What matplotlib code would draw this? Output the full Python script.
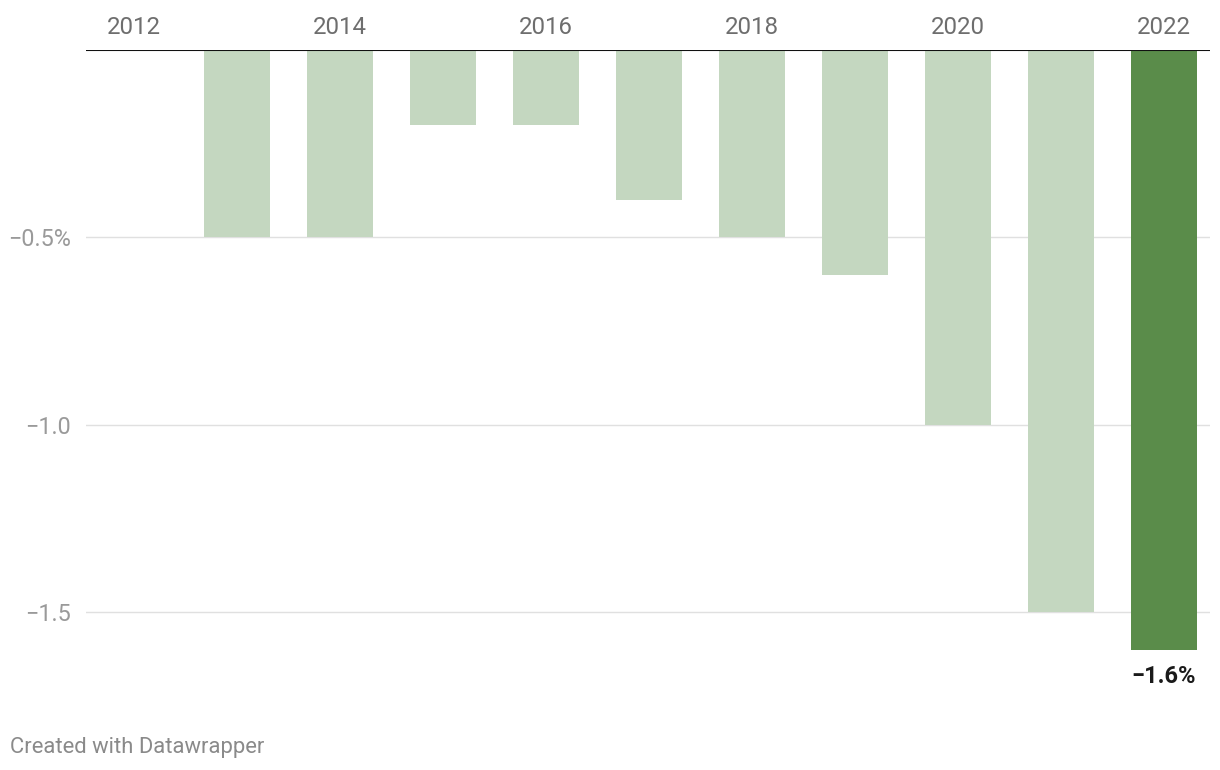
"""
Yearly change bar chart (Datawrapper style).
"""
import matplotlib
matplotlib.use('Agg')
import matplotlib.pyplot as plt

plt.rcParams['font.family'] = ['Roboto', 'DejaVu Sans']

years = [2012, 2013, 2014, 2015, 2016, 2017, 2018, 2019, 2020, 2021, 2022]
values = [0.0, -0.5, -0.5, -0.2, -0.2, -0.4, -0.5, -0.6, -1.0, -1.5, -1.6]
tick_years = [2012, 2014, 2016, 2018, 2020, 2022]
y_ticks = [-0.5, -1.0, -1.5]
y_labels = ['\u22120.5%', '\u22121.0', '\u22121.5']

light = '#c4d7c0'
dark = '#5a8c4a'

W, H = 1220, 770
fig = plt.figure(figsize=(W / 100, H / 100), dpi=100)
ax = fig.add_axes([86 / W, 1 - 706 / H, (1210 - 86) / W, (706 - 50) / H])

colors = [light] * (len(years) - 1) + [dark]
ax.bar(years, values, width=0.64, color=colors, zorder=2)

ax.set_ylim(-1.75, 0)
ax.set_xlim(2011.534, 2022.446)

# grid lines
for t in y_ticks:
    ax.axhline(t, color='#e0e0e0', lw=1.0, zorder=1)
ax.axhline(0, color='#111111', lw=1.5, zorder=3)

for s in ax.spines.values():
    s.set_visible(False)

ax.xaxis.tick_top()
ax.set_xticks(tick_years)
ax.set_xticklabels([str(y) for y in tick_years], fontsize=17.3, color='#6e6e6e')
ax.tick_params(axis='x', length=0, pad=8)

ax.set_yticks(y_ticks)
ax.set_yticklabels(y_labels, fontsize=16.8, color='#9a9a9a')
ax.tick_params(axis='y', length=0, pad=11)

# value label on last bar
ax.annotate('\u22121.6%', xy=(years[-1], values[-1]), xytext=(0, -11),
            textcoords='offset points', ha='center', va='top',
            fontsize=17, fontweight='bold', color='#1a1a1a')

fig.text(10 / W, 1 - 748 / H, 'Created with Datawrapper', fontsize=15.8,
         color='#8a8a8a', ha='left', va='center')

fig.savefig('out.png', dpi=100)
